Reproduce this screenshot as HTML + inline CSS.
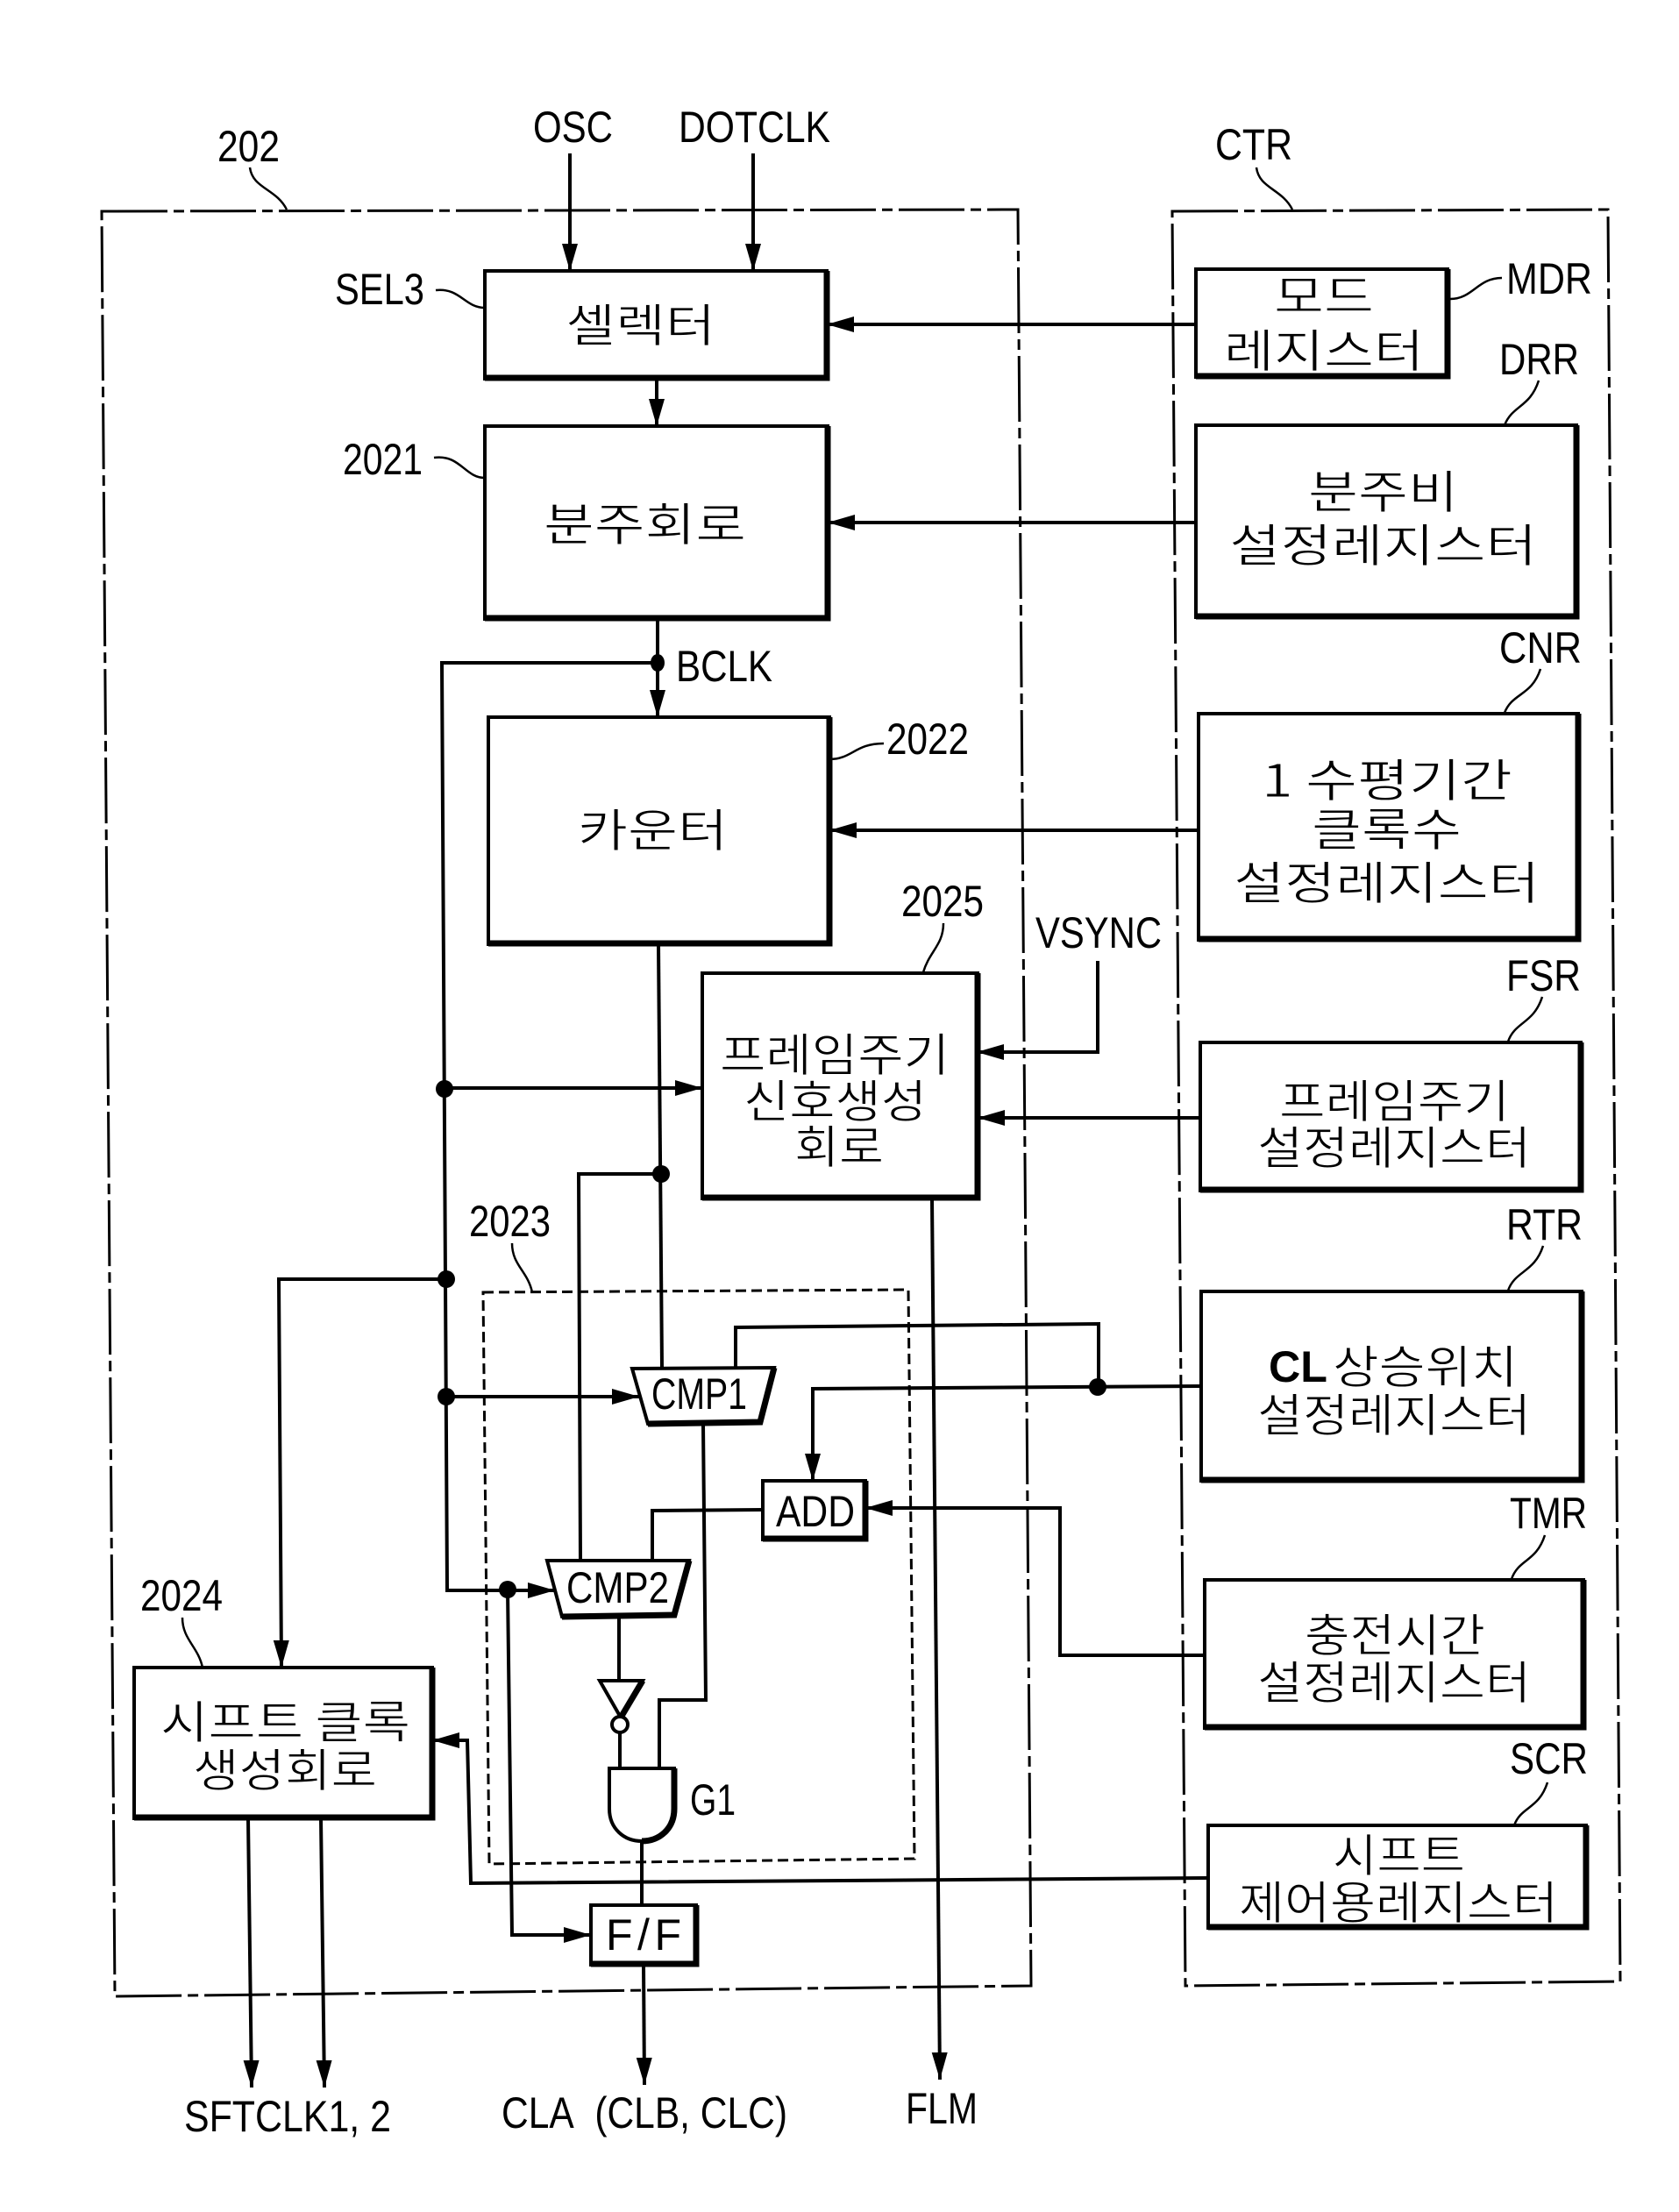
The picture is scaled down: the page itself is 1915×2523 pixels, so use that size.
<!DOCTYPE html>
<html><head><meta charset="utf-8"><style>
html,body{margin:0;padding:0;background:#fff}
svg{display:block}
.l{font-family:"Liberation Sans",sans-serif;font-size:50px;fill:#000}
.k{font-family:"Noto Sans CJK KR","NanumGothic",sans-serif;font-size:52px;fill:#000;stroke:#fff;stroke-width:.9}
.w{fill:none;stroke:#000;stroke-width:4}
.t{fill:none;stroke:#000;stroke-width:2.5}
.d{fill:none;stroke:#000;stroke-width:3;stroke-dasharray:75 7 12 7}
.e{fill:none;stroke:#000;stroke-width:3;stroke-dasharray:12 6}
.b{fill:#fff;stroke:#000;stroke-width:4}
.s{fill:none;stroke:#000;stroke-width:7}
</style></head><body>
<svg xmlns="http://www.w3.org/2000/svg" width="1915" height="2523" viewBox="0 0 1915 2523">
<defs><marker id="a" markerUnits="userSpaceOnUse" markerWidth="32" markerHeight="20" refX="31" refY="10" orient="auto"><path d="M0 1L31 10L0 19Z" fill="#000"/></marker></defs>
<rect width="1915" height="2523" fill="#fff"/>
<path class="d" d="M116 241L1161 239L1176 2265L131 2277Z"/>
<path class="d" d="M1337 241L1834 239L1848 2260L1352 2265Z"/>
<path class="e" d="M551 1474L1036 1471L1043 2120L558 2126Z"/>
<path class="w" marker-end="url(#a)" d="M650 175V309"/>
<path class="w" marker-end="url(#a)" d="M859 175V309"/>
<path class="w" marker-end="url(#a)" d="M1364 370H943"/>
<path class="w" marker-end="url(#a)" d="M749 432V486"/>
<path class="w" marker-end="url(#a)" d="M1364 596H944"/>
<path class="w" marker-end="url(#a)" d="M750 706V818"/>
<path class="w" marker-end="url(#a)" d="M1367 947H946"/>
<path class="w" marker-end="url(#a)" d="M1252 1096V1200H1114"/>
<path class="w" marker-end="url(#a)" d="M1369 1275H1115"/>
<path class="w" marker-end="url(#a)" d="M507 1241H801"/>
<path class="w" d="M750 756H504L510 1814H579"/>
<path class="w" marker-end="url(#a)" d="M579 1814H633"/>
<path class="w" d="M751 1077L755 1560"/>
<path class="w" d="M754 1339H660L662 1780"/>
<path class="w" marker-end="url(#a)" d="M1063 1367L1072 2372"/>
<path class="w" marker-end="url(#a)" d="M509 1459H318L321 1902"/>
<path class="w" marker-end="url(#a)" d="M509 1593H729"/>
<path class="w" d="M839 1560V1514L1253 1510V1582"/>
<path class="w" marker-end="url(#a)" d="M1370 1581L927 1584V1689"/>
<path class="w" d="M870 1722L744 1723V1780"/>
<path class="w" marker-end="url(#a)" d="M1374 1888H1209V1720H987"/>
<path class="w" d="M802 1624L805 1939H752V2017"/>
<path class="w" d="M706 1844V1917"/>
<path class="w" d="M707 1976V2017"/>
<path class="w" marker-end="url(#a)" d="M579 1813L584 2207H674"/>
<path class="w" d="M732 2100V2173"/>
<path class="w" marker-end="url(#a)" d="M734 2241L735 2378"/>
<path class="w" marker-end="url(#a)" d="M1378 2142L537 2148L533 1985H493"/>
<path class="w" marker-end="url(#a)" d="M283 2074L287 2381"/>
<path class="w" marker-end="url(#a)" d="M366 2074L370 2381"/>
<g fill="#000"><ellipse cx="750" cy="756" rx="8" ry="10"/><circle cx="507" cy="1242" r="10"/><circle cx="754" cy="1339" r="10"/><circle cx="509" cy="1459" r="10"/><circle cx="509" cy="1593" r="10"/><circle cx="1252" cy="1582" r="10"/><circle cx="579" cy="1813" r="10"/></g>
<rect class="b" x="553" y="309" width="390" height="123"/><path class="s" d="M553 431H943V309"/>
<rect class="b" x="1364" y="307" width="287" height="123"/><path class="s" d="M1364 429H1651V307"/>
<rect class="b" x="553" y="486" width="391" height="220"/><path class="s" d="M553 705H944V486"/>
<rect class="b" x="1364" y="485" width="434" height="219"/><path class="s" d="M1364 703H1798V485"/>
<rect class="b" x="557" y="818" width="389" height="259"/><path class="s" d="M557 1076H946V818"/>
<rect class="b" x="1367" y="814" width="433" height="258"/><path class="s" d="M1367 1071H1800V814"/>
<rect class="b" x="801" y="1110" width="314" height="257"/><path class="s" d="M801 1366H1115V1110"/>
<rect class="b" x="1369" y="1189" width="434" height="169"/><path class="s" d="M1369 1357H1803V1189"/>
<rect class="b" x="1370" y="1473" width="434" height="216"/><path class="s" d="M1370 1688H1804V1473"/>
<rect class="b" x="1374" y="1802" width="432" height="169"/><path class="s" d="M1374 1970H1806V1802"/>
<rect class="b" x="1378" y="2082" width="431" height="117"/><path class="s" d="M1378 2198H1809V2082"/>
<rect class="b" x="153" y="1902" width="340" height="172"/><path class="s" d="M153 2073H493V1902"/>
<path class="b" d="M721 1561L883 1560L867 1622L739 1624Z"/><path class="s" d="M739 1624L867 1622L883 1560"/>
<path class="b" d="M624 1780L786 1780L769 1842L641 1844Z"/><path class="s" d="M641 1844L769 1842L786 1780"/>
<rect class="b" x="870" y="1689" width="117" height="67"/><path class="s" d="M870 1755H987V1689"/>
<rect class="b" x="674" y="2173" width="120" height="68"/><path class="s" d="M674 2240H794V2173"/>
<path class="b" d="M684 1917H733L708 1959Z"/><path class="s" d="M733 1917L708 1959"/>
<circle class="b" cx="707" cy="1967" r="9"/>
<path class="b" d="M695 2017H769V2063C769 2086 752 2100 732 2100C712 2100 695 2086 695 2063Z"/>
<path class="s" d="M769 2017V2063C769 2086 752 2100 732 2100"/>
<g>
<path class="t" d="M285 191C288 215 315 215 327 239"/>
<path class="t" d="M1433 191C1436 215 1462 215 1474 239"/>
<path class="t" d="M497 331C525 328 530 351 553 351"/>
<path class="t" d="M495 522C525 518 530 545 553 545"/>
<path class="t" d="M1654 341C1680 341 1685 317 1713 317"/>
<path class="t" d="M1755 434C1745 465 1725 462 1716 485"/>
<path class="t" d="M1757 763C1747 794 1725 790 1716 813"/>
<path class="t" d="M946 866C972 866 975 848 1008 848"/>
<path class="t" d="M1076 1053C1076 1078 1060 1085 1053 1109"/>
<path class="t" d="M1759 1137C1749 1168 1728 1165 1720 1188"/>
<path class="t" d="M1760 1421C1750 1452 1728 1449 1720 1472"/>
<path class="t" d="M1762 1751C1752 1782 1732 1778 1724 1801"/>
<path class="t" d="M1765 2033C1755 2064 1735 2060 1727 2082"/>
<path class="t" d="M584 1418C584 1443 602 1450 607 1474"/>
<path class="t" d="M208 1845C208 1870 226 1878 231 1902"/>
</g>
<g class="l" transform="translate(0,-1)">
<text x="608" y="163" textLength="91" lengthAdjust="spacingAndGlyphs">OSC</text>
<text x="774" y="163" textLength="173" lengthAdjust="spacingAndGlyphs">DOTCLK</text>
<text x="248" y="185" textLength="71" lengthAdjust="spacingAndGlyphs">202</text>
<text x="1386" y="183" textLength="88" lengthAdjust="spacingAndGlyphs">CTR</text>
<text x="382" y="348" textLength="102" lengthAdjust="spacingAndGlyphs">SEL3</text>
<text x="1718" y="336" textLength="98" lengthAdjust="spacingAndGlyphs">MDR</text>
<text x="1710" y="428" textLength="91" lengthAdjust="spacingAndGlyphs">DRR</text>
<text x="391" y="542" textLength="91" lengthAdjust="spacingAndGlyphs">2021</text>
<text x="771" y="778" textLength="110" lengthAdjust="spacingAndGlyphs">BCLK</text>
<text x="1011" y="861" textLength="94" lengthAdjust="spacingAndGlyphs">2022</text>
<text x="1710" y="757" textLength="94" lengthAdjust="spacingAndGlyphs">CNR</text>
<text x="1028" y="1046" textLength="94" lengthAdjust="spacingAndGlyphs">2025</text>
<text x="1181" y="1082" textLength="144" lengthAdjust="spacingAndGlyphs">VSYNC</text>
<text x="1718" y="1131" textLength="85" lengthAdjust="spacingAndGlyphs">FSR</text>
<text x="535" y="1411" textLength="93" lengthAdjust="spacingAndGlyphs">2023</text>
<text x="1718" y="1415" textLength="87" lengthAdjust="spacingAndGlyphs">RTR</text>
<text x="743" y="1608" textLength="109" lengthAdjust="spacingAndGlyphs">CMP1</text>
<text x="885" y="1742" textLength="90" lengthAdjust="spacingAndGlyphs">ADD</text>
<text x="1722" y="1744" textLength="88" lengthAdjust="spacingAndGlyphs">TMR</text>
<text x="646" y="1829" textLength="117" lengthAdjust="spacingAndGlyphs">CMP2</text>
<text x="160" y="1838" textLength="94" lengthAdjust="spacingAndGlyphs">2024</text>
<text x="1722" y="2024" textLength="89" lengthAdjust="spacingAndGlyphs">SCR</text>
<text x="787" y="2071" textLength="52" lengthAdjust="spacingAndGlyphs">G1</text>
<text x="691" y="2225" textLength="86" lengthAdjust="spacing">F/F</text>
<text x="210" y="2432" textLength="236" lengthAdjust="spacingAndGlyphs">SFTCLK1, 2</text>
<text x="572" y="2428" textLength="326" lengthAdjust="spacingAndGlyphs">CLA&#160;&#160;(CLB, CLC)</text>
<text x="1033" y="2423" textLength="82" lengthAdjust="spacingAndGlyphs">FLM</text>
<text x="1447" y="1577" textLength="67" lengthAdjust="spacingAndGlyphs" font-weight="bold">CL</text>
</g>
<g class="k" transform="translate(0,3)">
<text x="645" y="387" textLength="171" lengthAdjust="spacingAndGlyphs">셀렉터</text>
<text x="1453" y="354" textLength="114" lengthAdjust="spacingAndGlyphs">모드</text>
<text x="1396" y="416" textLength="228" lengthAdjust="spacingAndGlyphs">레지스터</text>
<text x="620" y="614" textLength="231" lengthAdjust="spacingAndGlyphs">분주회로</text>
<text x="1492" y="577" textLength="171" lengthAdjust="spacingAndGlyphs">분주비</text>
<text x="1402" y="638" textLength="351" lengthAdjust="spacingAndGlyphs">설정레지스터</text>
<text x="659" y="963" textLength="171" lengthAdjust="spacingAndGlyphs">카운터</text>
<text x="1439" y="906" textLength="286" lengthAdjust="spacingAndGlyphs">1 수평기간</text>
<text x="1496" y="962" textLength="171" lengthAdjust="spacingAndGlyphs">클록수</text>
<text x="1407" y="1023" textLength="349" lengthAdjust="spacingAndGlyphs">설정레지스터</text>
<text x="821" y="1219" textLength="262" lengthAdjust="spacingAndGlyphs">프레임주기</text>
<text x="848" y="1272" textLength="209" lengthAdjust="spacingAndGlyphs">신호생성</text>
<text x="906" y="1324" textLength="102" lengthAdjust="spacingAndGlyphs">회로</text>
<text x="1459" y="1272" textLength="263" lengthAdjust="spacingAndGlyphs">프레임주기</text>
<text x="1434" y="1325" textLength="312" lengthAdjust="spacingAndGlyphs">설정레지스터</text>
<text x="1520" y="1575" textLength="211" lengthAdjust="spacingAndGlyphs">상승위치</text>
<text x="1434" y="1630" textLength="312" lengthAdjust="spacingAndGlyphs">설정레지스터</text>
<text x="1488" y="1881" textLength="206" lengthAdjust="spacingAndGlyphs">충전시간</text>
<text x="1434" y="1935" textLength="312" lengthAdjust="spacingAndGlyphs">설정레지스터</text>
<text x="1520" y="2132" textLength="151" lengthAdjust="spacingAndGlyphs">시프트</text>
<text x="1413" y="2186" textLength="364" lengthAdjust="spacingAndGlyphs">제어용레지스터</text>
<text x="183" y="1980" textLength="285" lengthAdjust="spacingAndGlyphs">시프트 클록</text>
<text x="220" y="2035" textLength="210" lengthAdjust="spacingAndGlyphs">생성회로</text>
</g>
</svg>
</body></html>
